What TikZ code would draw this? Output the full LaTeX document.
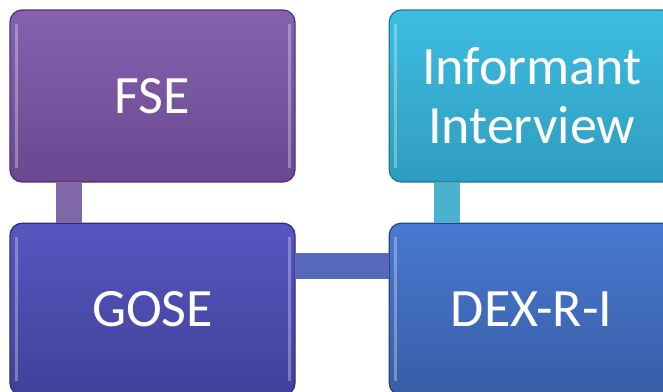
\documentclass[tikz,border=0pt]{standalone}
\usepackage{fontspec}
\setmainfont{Carlito}
\usetikzlibrary{positioning}
\definecolor{fsetop}{HTML}{8562AE}
\definecolor{fsebot}{HTML}{6A4890}
\definecolor{fseedge}{HTML}{4E3470}
\definecolor{gosetop}{HTML}{5656C0}
\definecolor{gosebot}{HTML}{41419A}
\definecolor{goseedge}{HTML}{2E2E78}
\definecolor{inftop}{HTML}{3DBDE2}
\definecolor{infbot}{HTML}{2F9CBE}
\definecolor{infedge}{HTML}{217890}
\definecolor{dextop}{HTML}{4879D0}
\definecolor{dexbot}{HTML}{395DA6}
\definecolor{dexedge}{HTML}{284482}
\definecolor{fselink}{HTML}{8068A8}
\definecolor{goselink}{HTML}{5868B8}
\definecolor{inflink}{HTML}{4AB2CE}
\tikzset{box/.style={draw, rounded corners=12pt, line width=1.2pt, minimum width=285pt, minimum height=172pt, inner sep=0pt, align=center, text=white, font=\fontsize{54}{59}\selectfont,
  path picture={\draw[white, opacity=0.3, line width=3pt] ([xshift=6pt,yshift=-14pt]path picture bounding box.north west) -- ([xshift=6pt,yshift=14pt]path picture bounding box.south west);
                \draw[white, opacity=0.3, line width=3pt] ([xshift=-6pt,yshift=-14pt]path picture bounding box.north east) -- ([xshift=-6pt,yshift=14pt]path picture bounding box.south east);}}}
\tikzset{link/.style={draw, line width=26pt}}

\begin{document}
\begin{tikzpicture}[x=1pt,y=1pt]
			\clip (0,0) rectangle (663,-391);
			\node [box, top color=fsetop, bottom color=fsebot, draw=fseedge] at (152.5,-96) (fse) {FSE};
			\node [box, top color=gosetop, bottom color=gosebot, draw=goseedge, below=40pt of fse] (gose) {GOSE};
			\node [box, top color=inftop, bottom color=infbot, draw=infedge, right=93pt of fse] (inf) {Informant\\Interview};
			\node [box, top color=dextop, bottom color=dexbot, draw=dexedge, below=40pt of inf] (dex) {DEX-R-I};
			%
			\path [link, draw=fselink]  ([xshift=-83.5pt]fse.south) -- ([xshift=-83.5pt]gose.north);
			\path [link, draw=goselink] ([yshift=43pt]gose.east)     -- ([yshift=43pt]dex.west);
			\path [link, draw=inflink]  ([xshift=-84.5pt]inf.south)  -- ([xshift=-84.5pt]dex.north);
\end{tikzpicture}
\end{document}
